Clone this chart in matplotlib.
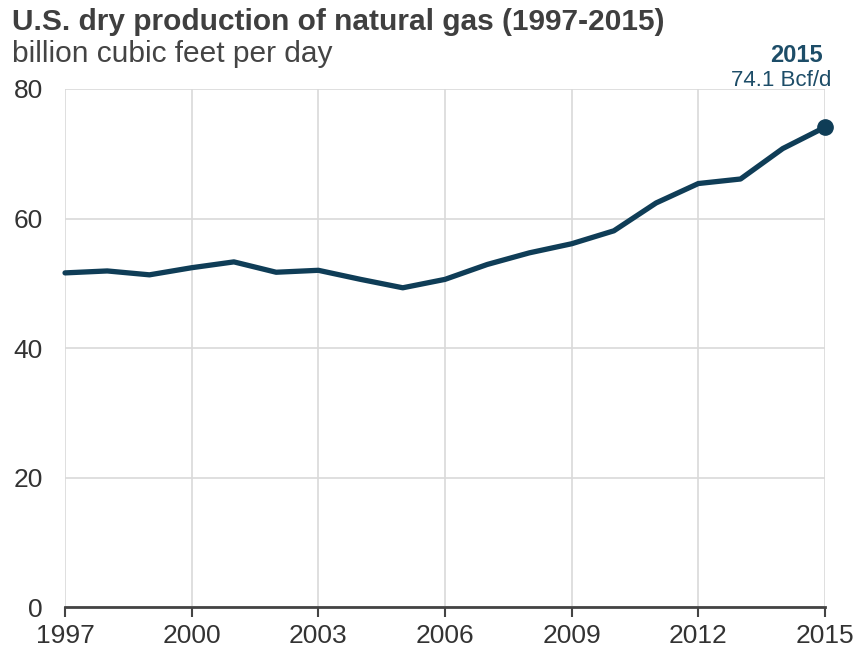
import matplotlib.pyplot as plt

plt.rcParams['font.family'] = ['Liberation Sans', 'DejaVu Sans']

years = list(range(1997, 2016))
production = [51.6, 51.9, 51.3, 52.4, 53.3, 51.7, 52.0, 50.6, 49.3, 50.6,
              52.9, 54.7, 56.1, 58.1, 62.4, 65.4, 66.1, 70.8, 74.1]
year_ticks = [1997, 2000, 2003, 2006, 2009, 2012, 2015]
value_ticks = [0, 20, 40, 60, 80]

line_color = '#0f3d57'
text_color = '#333333'
label_color = '#1d4d68'

fig = plt.figure(figsize=[8.58, 6.52], dpi=100)
ax = fig.add_axes([0.0758, 0.069, 0.8857, 0.7945])

ax.plot(years, production, color=line_color, lw=3.8, solid_joinstyle='round',
        solid_capstyle='round', zorder=3, clip_on=False)
ax.plot(years[-1], production[-1], 'o', color=line_color, ms=11, zorder=4,
        clip_on=False)

ax.set_xlim(1997, 2015)
ax.set_ylim(0, 80)
ax.set_xticks(year_ticks)
ax.set_yticks(value_ticks)
ax.grid(True, color='#d9d9d9', lw=1.2)
ax.set_axisbelow(True)

for side in ['top', 'right', 'left']:
    ax.spines[side].set_visible(False)
ax.spines['bottom'].set_color('#444444')
ax.spines['bottom'].set_linewidth(2)

ax.tick_params(axis='x', direction='out', length=7, width=1.5, color='#444444',
               labelsize=19, labelcolor=text_color, pad=5)
ax.tick_params(axis='y', length=0, labelsize=19, labelcolor=text_color, pad=16)

fig.text(0.014, 0.954, 'U.S. dry production of natural gas (1997-2015)',
         fontsize=21.5, fontweight='bold', color='#3f3f3f', va='baseline')
fig.text(0.014, 0.905, 'billion cubic feet per day', fontsize=21.5,
         color='#444444', va='baseline')

ax.annotate('2015', xy=(years[-1], production[-1]), xytext=(796 / 858, 1 - 62 / 652),
            textcoords='figure fraction', ha='center', va='baseline',
            fontsize=17, fontweight='bold', color=label_color)
ax.annotate(f'{production[-1]} Bcf/d', xy=(years[-1], production[-1]),
            xytext=(781 / 858, 1 - 86 / 652), textcoords='figure fraction',
            ha='center', va='baseline', fontsize=16, color=label_color)

fig.savefig('out.png', dpi=100)
